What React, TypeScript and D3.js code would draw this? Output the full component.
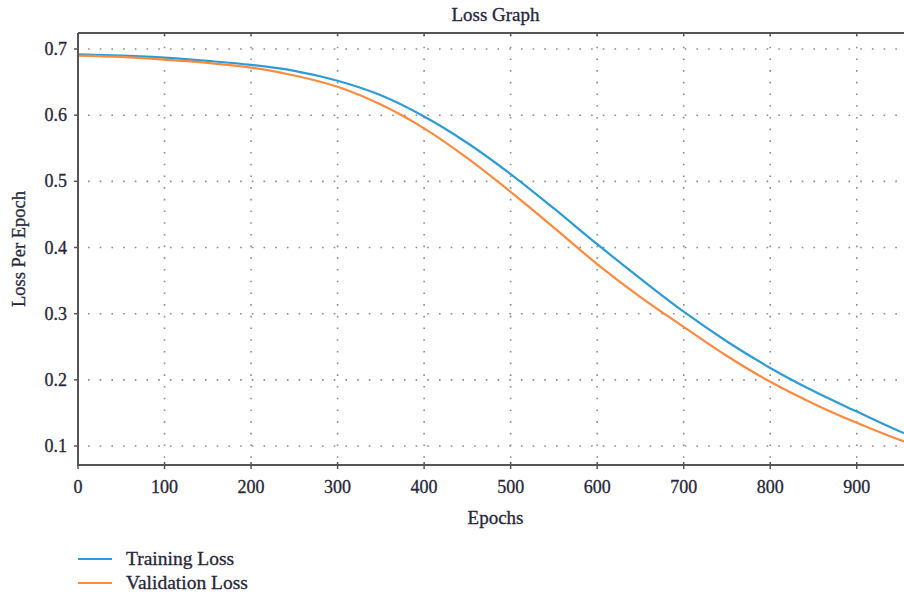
import React from "react";
import * as d3 from "d3";

const epochs = [0, 50, 100, 150, 200, 250, 300, 350, 400, 450, 500, 550, 600, 650, 700, 750, 800, 850, 900, 950, 1000];
const trainingLoss = [0.692, 0.690, 0.687, 0.682, 0.676, 0.667, 0.652, 0.630, 0.598, 0.558, 0.511, 0.459, 0.405, 0.353, 0.303, 0.258, 0.218, 0.183, 0.152, 0.122, 0.098];
const validationLoss = [0.690, 0.688, 0.684, 0.679, 0.672, 0.660, 0.643, 0.616, 0.580, 0.535, 0.484, 0.430, 0.375, 0.325, 0.280, 0.236, 0.197, 0.164, 0.135, 0.109, 0.088];
const xTicks = [0, 100, 200, 300, 400, 500, 600, 700, 800, 900];
const yTicks = [0.1, 0.2, 0.3, 0.4, 0.5, 0.6, 0.7];

const W = 904;
const H = 596;
const left = 78;
const right = 913;
const top = 33;
const bottom = 465;
const font = "'Liberation Serif', 'DejaVu Serif', serif";
const textColor = "#262638";
const axisColor = "#555";
const gridColor = "#8a8a8a";
const blue = "#2e9bd3";
const orange = "#ff8a3d";

export default function App() {
  const x = d3.scaleLinear().domain([0, 965]).range([left, right]);
  const y = d3.scaleLinear().domain([0.0713, 0.7242]).range([bottom, top]);
  const line = d3
    .line<number>()
    .x((_, i) => x(epochs[i]))
    .y((d) => y(d))
    .curve(d3.curveCatmullRom.alpha(0.5));

  const txt = { fill: textColor, stroke: textColor, strokeWidth: 0.3 };

  return (
    <svg
      width={W}
      height={H}
      style={{ position: "absolute", left: 0, top: 0, background: "#fff" }}
      fontFamily={font}
    >
      <defs>
        <clipPath id="plot">
          <rect x={left} y={top} width={right - left} height={bottom - top} />
        </clipPath>
      </defs>
      <rect width={W} height={H} fill="#fff" />
      <text x={(left + right) / 2} y={21} textAnchor="middle" fontSize={19} {...txt}>
        Loss Graph
      </text>

      {/* grid */}
      {yTicks.map((t) => (
        <line
          key={"gy" + t}
          x1={left + 10}
          x2={right}
          y1={y(t)}
          y2={y(t)}
          stroke={gridColor}
          strokeWidth={1.6}
          strokeDasharray="1.6,10.1"
        />
      ))}
      {xTicks.slice(1).map((t) => (
        <line
          key={"gx" + t}
          x1={x(t)}
          x2={x(t)}
          y1={top + 2}
          y2={bottom}
          stroke={gridColor}
          strokeWidth={1.6}
          strokeDasharray="1.6,10.1"
        />
      ))}

      {/* lines */}
      <g clipPath="url(#plot)">
        <path d={line(trainingLoss) || ""} fill="none" stroke={blue} strokeWidth={2.2} />
        <path d={line(validationLoss) || ""} fill="none" stroke={orange} strokeWidth={2.2} />
      </g>

      {/* frame */}
      <line x1={left} x2={right} y1={top} y2={top} stroke={axisColor} strokeWidth={2} />
      <line x1={left} x2={right} y1={bottom} y2={bottom} stroke={axisColor} strokeWidth={2.2} />
      <line x1={left} x2={left} y1={top} y2={bottom + 1} stroke={axisColor} strokeWidth={2} />

      {/* x ticks */}
      {xTicks.map((t) => (
        <g key={"xt" + t}>
          <line x1={x(t)} x2={x(t)} y1={bottom - 3} y2={bottom + 4} stroke={axisColor} strokeWidth={1.5} />
          <line x1={x(t)} x2={x(t)} y1={top} y2={top + 3} stroke={axisColor} strokeWidth={1.5} />
          <text x={x(t)} y={493} textAnchor="middle" fontSize={18} {...txt}>
            {t}
          </text>
        </g>
      ))}
      {/* y ticks */}
      {yTicks.map((t) => (
        <g key={"yt" + t}>
          <line x1={left - 4} x2={left} y1={y(t)} y2={y(t)} stroke={axisColor} strokeWidth={1.5} />
          <text x={67} y={y(t) + 6} textAnchor="end" fontSize={18} {...txt}>
            {t.toFixed(1)}
          </text>
        </g>
      ))}

      <text x={(left + right) / 2} y={524} textAnchor="middle" fontSize={19} {...txt}>
        Epochs
      </text>
      <text
        transform={`translate(25,${(top + bottom) / 2}) rotate(-90)`}
        textAnchor="middle"
        fontSize={18.5}
        {...txt}
      >
        Loss Per Epoch
      </text>

      {/* legend */}
      <line x1={78} x2={112} y1={559} y2={559} stroke={blue} strokeWidth={2.2} />
      <text x={126} y={565} fontSize={19.5} {...txt}>
        Training Loss
      </text>
      <line x1={78} x2={112} y1={583} y2={583} stroke={orange} strokeWidth={2.2} />
      <text x={126} y={589} fontSize={19.5} {...txt}>
        Validation Loss
      </text>
    </svg>
  );
}
